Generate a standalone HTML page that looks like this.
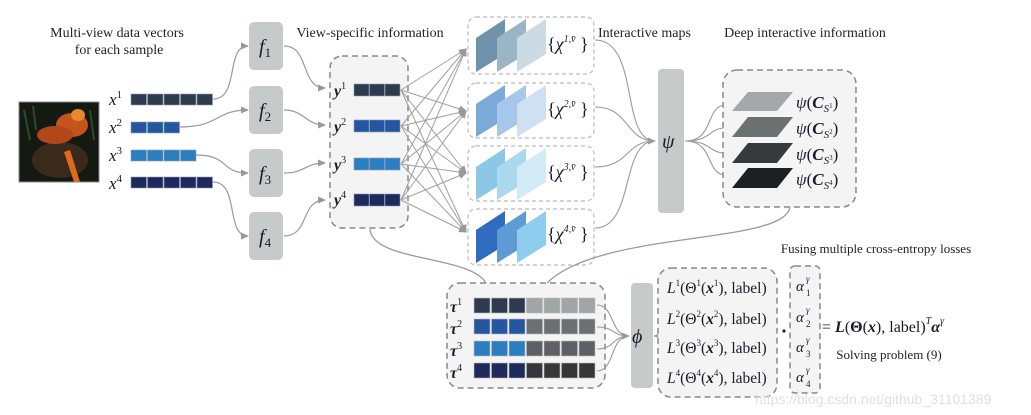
<!DOCTYPE html>
<html><head><meta charset="utf-8"><style>
html,body{margin:0;padding:0;background:#fff;}
svg{display:block;}
.t{font-family:"Liberation Serif",serif;fill:#222;}
.m{font-family:"Liberation Serif",serif;font-style:italic;fill:#1a1a2a;}
</style></head><body>
<svg width="1031" height="415" viewBox="0 0 1031 415" xmlns="http://www.w3.org/2000/svg">
<defs>
<marker id="a" markerWidth="8" markerHeight="8" refX="7" refY="4" orient="auto" markerUnits="userSpaceOnUse"><path d="M0,0.5 L8,4 L0,7.5 Z" fill="#999"/></marker>
</defs>
<text class="t" x="117" y="37" font-size="14" text-anchor="middle">Multi-view data vectors</text>
<text class="t" x="119" y="54" font-size="14" text-anchor="middle">for each sample</text>
<text class="t" x="370" y="37" font-size="14" text-anchor="middle">View-specific information</text>
<text class="t" x="598" y="37" font-size="14">Interactive maps</text>
<text class="t" x="805" y="37" font-size="14" text-anchor="middle">Deep interactive information</text>
<text class="t" x="876" y="253" font-size="13" text-anchor="middle">Fusing multiple cross-entropy losses</text>
<text class="t" x="889" y="359" font-size="13" text-anchor="middle">Solving problem (9)</text>

<rect x="19" y="102" width="80" height="80" fill="#141a12" stroke="#888" stroke-width="1"/>
<ellipse cx="60" cy="160" rx="28" ry="18" fill="#3a2a1c"/>
<ellipse cx="72" cy="125" rx="16" ry="12" fill="#c5541c"/>
<ellipse cx="55" cy="135" rx="18" ry="9" fill="#b2481a"/>
<path d="M70,150 L80,182 L74,182 L64,152Z" fill="#e06a1c"/>
<ellipse cx="78" cy="115" rx="7" ry="6" fill="#e88a2a"/>
<path d="M24,110 L30,140 M33,106 L36,130 M90,110 L94,140" stroke="#2d4a2a" stroke-width="2"/>

<g class="m" font-size="17">
<text x="109" y="105">x<tspan font-size="11" font-style="normal" dy="-7">1</tspan></text>
<text x="109" y="133">x<tspan font-size="11" font-style="normal" dy="-7">2</tspan></text>
<text x="109" y="161">x<tspan font-size="11" font-style="normal" dy="-7">3</tspan></text>
<text x="109" y="189">x<tspan font-size="11" font-style="normal" dy="-7">4</tspan></text>
</g>
<g stroke="#8a9bb0" stroke-width="0.6">
<g fill="#2e3b4e"><rect x="131" y="94" width="15.5" height="11"/><rect x="147.5" y="94" width="15.5" height="11"/><rect x="164" y="94" width="15.5" height="11"/><rect x="180.5" y="94" width="15.5" height="11"/><rect x="197" y="94" width="15.5" height="11"/></g>
<g fill="#2557a0"><rect x="131" y="122" width="15.5" height="11"/><rect x="147.5" y="122" width="15.5" height="11"/><rect x="164" y="122" width="15.5" height="11"/></g>
<g fill="#2b7fc1"><rect x="131" y="150" width="15.5" height="11"/><rect x="147.5" y="150" width="15.5" height="11"/><rect x="164" y="150" width="15.5" height="11"/><rect x="180.5" y="150" width="15.5" height="11"/></g>
<g fill="#1e2a5c"><rect x="131" y="177" width="15.5" height="11"/><rect x="147.5" y="177" width="15.5" height="11"/><rect x="164" y="177" width="15.5" height="11"/><rect x="180.5" y="177" width="15.5" height="11"/><rect x="197" y="177" width="15.5" height="11"/></g>
</g>

<g fill="#c6cacb">
<rect x="249" y="22" width="34" height="48" rx="5"/>
<rect x="249" y="86" width="34" height="48" rx="5"/>
<rect x="249" y="149" width="34" height="48" rx="5"/>
<rect x="249" y="212" width="34" height="48" rx="5"/>
</g>
<g class="m" font-size="20">
<text x="259" y="53">f<tspan font-size="13" font-style="normal" dy="4">1</tspan></text>
<text x="259" y="117">f<tspan font-size="13" font-style="normal" dy="4">2</tspan></text>
<text x="259" y="180">f<tspan font-size="13" font-style="normal" dy="4">3</tspan></text>
<text x="259" y="243">f<tspan font-size="13" font-style="normal" dy="4">4</tspan></text>
</g>

<g fill="none" stroke="#9a9a9a" stroke-width="1.2" marker-end="url(#a)">
<path d="M213,99 C240,99 225,46 248,46"/>
<path d="M180,127 C220,127 215,110 248,110"/>
<path d="M196,155 C230,155 220,173 248,173"/>
<path d="M213,182 C240,182 225,236 248,236"/>
<path d="M284,46 C310,46 300,88 325,88"/>
<path d="M284,110 C305,110 305,125 325,125"/>
<path d="M284,173 C305,173 305,163 325,163"/>
<path d="M284,236 C310,236 300,200 325,200"/>
</g>

<rect x="330" y="56" width="78" height="172" rx="12" fill="#f4f4f4" stroke="#888" stroke-width="1.5" stroke-dasharray="6,4"/>
<g class="m" font-size="16" font-weight="bold">
<text x="334" y="96">y<tspan font-size="10" font-weight="normal" font-style="normal" dy="-7">1</tspan></text>
<text x="334" y="132">y<tspan font-size="10" font-weight="normal" font-style="normal" dy="-7">2</tspan></text>
<text x="334" y="170">y<tspan font-size="10" font-weight="normal" font-style="normal" dy="-7">3</tspan></text>
<text x="334" y="205">y<tspan font-size="10" font-weight="normal" font-style="normal" dy="-7">4</tspan></text>
</g>
<g stroke="#8a9bb0" stroke-width="0.6">
<g fill="#2e3b4e"><rect x="354" y="84" width="15" height="12"/><rect x="369.5" y="84" width="15" height="12"/><rect x="385" y="84" width="15" height="12"/></g>
<g fill="#2557a0"><rect x="354" y="120" width="15" height="12"/><rect x="369.5" y="120" width="15" height="12"/><rect x="385" y="120" width="15" height="12"/></g>
<g fill="#2b7fc1"><rect x="354" y="158" width="15" height="12"/><rect x="369.5" y="158" width="15" height="12"/><rect x="385" y="158" width="15" height="12"/></g>
<g fill="#1e2a5c"><rect x="354" y="194" width="15" height="12"/><rect x="369.5" y="194" width="15" height="12"/><rect x="385" y="194" width="15" height="12"/></g>
</g>

<g stroke="#a0a0a0" stroke-width="1" marker-end="url(#a)">
<line x1="401" y1="90" x2="466" y2="49"/><line x1="401" y1="90" x2="466" y2="111"/><line x1="401" y1="90" x2="466" y2="173"/><line x1="401" y1="90" x2="466" y2="232"/>
<line x1="401" y1="126" x2="466" y2="49"/><line x1="401" y1="126" x2="466" y2="111"/><line x1="401" y1="126" x2="466" y2="173"/><line x1="401" y1="126" x2="466" y2="232"/>
<line x1="401" y1="164" x2="466" y2="49"/><line x1="401" y1="164" x2="466" y2="111"/><line x1="401" y1="164" x2="466" y2="173"/><line x1="401" y1="164" x2="466" y2="232"/>
<line x1="401" y1="200" x2="466" y2="49"/><line x1="401" y1="200" x2="466" y2="111"/><line x1="401" y1="200" x2="466" y2="173"/><line x1="401" y1="200" x2="466" y2="232"/>
</g>

<g fill="#fff" stroke="#bbb" stroke-width="1.2" stroke-dasharray="4,3">
<rect x="468" y="17" width="126" height="57" rx="8"/>
<rect x="468" y="83" width="126" height="55" rx="8"/>
<rect x="468" y="146" width="126" height="55" rx="8"/>
<rect x="468" y="209" width="126" height="56" rx="8"/>
</g>
<g>
<path d="M476,38 L505,19 L505,54 L476,72Z" fill="#6f93ab"/><path d="M497,38 L526,19 L526,54 L497,72Z" fill="#9ab5c5"/><path d="M517,38 L546,19 L546,54 L517,72Z" fill="#cbdae3"/>
<path d="M476,104 L505,85 L505,119 L476,137Z" fill="#7aa9da"/><path d="M497,104 L526,85 L526,119 L497,137Z" fill="#a6c7ea"/><path d="M517,104 L546,85 L546,119 L517,137Z" fill="#cfe0f3"/>
<path d="M476,167 L505,148 L505,182 L476,200Z" fill="#8cc7e6"/><path d="M497,167 L526,148 L526,182 L497,200Z" fill="#acd8ee"/><path d="M517,167 L546,148 L546,182 L517,200Z" fill="#d3eaf7"/>
<path d="M476,230 L505,211 L505,245 L476,263Z" fill="#2f6bbf"/><path d="M497,230 L526,211 L526,245 L497,263Z" fill="#5e9ad4"/><path d="M517,230 L546,211 L546,245 L517,263Z" fill="#8fcdef"/>
</g>
<g class="m" font-size="18">
<text x="547" y="50"><tspan font-style="normal">{</tspan>χ<tspan font-size="10" dy="-8">1,v̄</tspan><tspan font-style="normal" dy="8"> }</tspan></text>
<text x="547" y="115"><tspan font-style="normal">{</tspan>χ<tspan font-size="10" dy="-8">2,v̄</tspan><tspan font-style="normal" dy="8"> }</tspan></text>
<text x="547" y="178"><tspan font-style="normal">{</tspan>χ<tspan font-size="10" dy="-8">3,v̄</tspan><tspan font-style="normal" dy="8"> }</tspan></text>
<text x="547" y="240"><tspan font-style="normal">{</tspan>χ<tspan font-size="10" dy="-8">4,v̄</tspan><tspan font-style="normal" dy="8"> }</tspan></text>
</g>

<rect x="658" y="69" width="26" height="144" rx="4" fill="#c6cacb"/>
<text class="m" x="662" y="148" font-size="20">ψ</text>
<g fill="none" stroke="#9a9a9a" stroke-width="1.1">
<path d="M595,40 C640,40 620,141 655,141" marker-end="url(#a)"/>
<path d="M595,107 C630,107 625,141 655,141"/>
<path d="M595,167 C630,167 625,141 655,141"/>
<path d="M595,228 C635,228 620,141 655,141"/>
<path d="M685,141 C715,141 705,105 726,105"/>
<path d="M685,141 C712,141 708,128 726,128"/>
<path d="M685,141 C712,141 708,153 726,153"/>
<path d="M685,141 C715,141 705,175 726,175"/>
</g>

<rect x="723" y="70" width="133" height="137" rx="14" fill="#f4f4f4" stroke="#888" stroke-width="1.5" stroke-dasharray="6,4"/>
<path d="M732,111 L748,92 L793,92 L777,111Z" fill="#a3a8a8"/>
<path d="M732,137 L748,117 L793,117 L777,137Z" fill="#6b7070"/>
<path d="M732,163 L748,143 L793,143 L777,163Z" fill="#37393b"/>
<path d="M732,188 L748,168 L793,168 L777,188Z" fill="#1e1f20"/>
<g class="m" font-size="17">
<text x="796" y="108">ψ<tspan font-style="normal">(</tspan><tspan font-weight="bold">C</tspan><tspan font-size="11" dy="4">S</tspan><tspan font-size="7" font-style="normal" dy="-4">1</tspan><tspan font-style="normal" dy="0">)</tspan></text>
<text x="796" y="134">ψ<tspan font-style="normal">(</tspan><tspan font-weight="bold">C</tspan><tspan font-size="11" dy="4">S</tspan><tspan font-size="7" font-style="normal" dy="-4">2</tspan><tspan font-style="normal">)</tspan></text>
<text x="796" y="160">ψ<tspan font-style="normal">(</tspan><tspan font-weight="bold">C</tspan><tspan font-size="11" dy="4">S</tspan><tspan font-size="7" font-style="normal" dy="-4">3</tspan><tspan font-style="normal">)</tspan></text>
<text x="796" y="185">ψ<tspan font-style="normal">(</tspan><tspan font-weight="bold">C</tspan><tspan font-size="11" dy="4">S</tspan><tspan font-size="7" font-style="normal" dy="-4">4</tspan><tspan font-style="normal">)</tspan></text>
</g>

<g fill="none" stroke="#9a9a9a" stroke-width="1.3">
<path d="M370,229 C372,262 470,255 486,283"/>
<path d="M790,207 C785,245 600,230 547,283"/>
</g>

<rect x="447" y="283" width="158" height="105" rx="13" fill="#f4f4f4" stroke="#888" stroke-width="1.5" stroke-dasharray="6,4"/>
<g class="m" font-size="16" font-weight="bold">
<text x="450" y="312">τ<tspan font-size="10" font-weight="normal" font-style="normal" dy="-7">1</tspan></text>
<text x="450" y="334">τ<tspan font-size="10" font-weight="normal" font-style="normal" dy="-7">2</tspan></text>
<text x="450" y="356">τ<tspan font-size="10" font-weight="normal" font-style="normal" dy="-7">3</tspan></text>
<text x="450" y="378">τ<tspan font-size="10" font-weight="normal" font-style="normal" dy="-7">4</tspan></text>
</g>
<g stroke="#bbb" stroke-width="0.6">
<g fill="#2e3b4e"><rect x="474" y="298" width="16" height="15"/><rect x="491.5" y="298" width="16" height="15"/><rect x="509" y="298" width="16" height="15"/></g>
<g fill="#a0a5a6"><rect x="526.5" y="298" width="16" height="15"/><rect x="544" y="298" width="16" height="15"/><rect x="561.5" y="298" width="16" height="15"/><rect x="579" y="298" width="16" height="15"/></g>
<g fill="#2557a0"><rect x="474" y="319" width="16" height="15"/><rect x="491.5" y="319" width="16" height="15"/><rect x="509" y="319" width="16" height="15"/></g>
<g fill="#6b7070"><rect x="526.5" y="319" width="16" height="15"/><rect x="544" y="319" width="16" height="15"/><rect x="561.5" y="319" width="16" height="15"/><rect x="579" y="319" width="16" height="15"/></g>
<g fill="#2b7fc1"><rect x="474" y="341" width="16" height="15"/><rect x="491.5" y="341" width="16" height="15"/><rect x="509" y="341" width="16" height="15"/></g>
<g fill="#5f6063"><rect x="526.5" y="341" width="16" height="15"/><rect x="544" y="341" width="16" height="15"/><rect x="561.5" y="341" width="16" height="15"/><rect x="579" y="341" width="16" height="15"/></g>
<g fill="#1e2a5c"><rect x="474" y="363" width="16" height="15"/><rect x="491.5" y="363" width="16" height="15"/><rect x="509" y="363" width="16" height="15"/></g>
<g fill="#35383b"><rect x="526.5" y="363" width="16" height="15"/><rect x="544" y="363" width="16" height="15"/><rect x="561.5" y="363" width="16" height="15"/><rect x="579" y="363" width="16" height="15"/></g>
</g>

<rect x="631" y="283" width="22" height="105" rx="4" fill="#c6cacb"/>
<text class="m" x="632" y="343" font-size="20">ϕ</text>
<g fill="none" stroke="#9a9a9a" stroke-width="1.1">
<path d="M597,305 C615,305 610,336 629,336" marker-end="url(#a)"/>
<path d="M597,327 C615,327 612,336 629,336"/>
<path d="M597,349 C615,349 612,336 629,336"/>
<path d="M597,371 C615,371 610,336 629,336"/>
<path d="M654,336 C668,336 660,287 672,287"/>
<path d="M654,336 C668,336 662,318 672,318"/>
<path d="M654,336 C668,336 662,347 672,347"/>
<path d="M654,336 C668,336 660,377 672,377"/>
</g>

<rect x="658" y="268" width="119" height="129" rx="13" fill="#f4f4f4" stroke="#888" stroke-width="1.5" stroke-dasharray="6,4"/>
<g class="m" font-size="15.5">
<text x="667" y="293">L<tspan font-size="9" font-style="normal" dy="-7">1</tspan><tspan font-style="normal" dy="7">(Θ</tspan><tspan font-size="9" font-style="normal" dy="-7">1</tspan><tspan font-style="normal" dy="7">(</tspan><tspan font-weight="bold">x</tspan><tspan font-size="9" font-style="normal" dy="-7">1</tspan><tspan font-style="normal" dy="7">), label)</tspan></text>
<text x="667" y="324">L<tspan font-size="9" font-style="normal" dy="-7">2</tspan><tspan font-style="normal" dy="7">(Θ</tspan><tspan font-size="9" font-style="normal" dy="-7">2</tspan><tspan font-style="normal" dy="7">(</tspan><tspan font-weight="bold">x</tspan><tspan font-size="9" font-style="normal" dy="-7">2</tspan><tspan font-style="normal" dy="7">), label)</tspan></text>
<text x="667" y="353">L<tspan font-size="9" font-style="normal" dy="-7">3</tspan><tspan font-style="normal" dy="7">(Θ</tspan><tspan font-size="9" font-style="normal" dy="-7">3</tspan><tspan font-style="normal" dy="7">(</tspan><tspan font-weight="bold">x</tspan><tspan font-size="9" font-style="normal" dy="-7">3</tspan><tspan font-style="normal" dy="7">), label)</tspan></text>
<text x="667" y="383">L<tspan font-size="9" font-style="normal" dy="-7">4</tspan><tspan font-style="normal" dy="7">(Θ</tspan><tspan font-size="9" font-style="normal" dy="-7">4</tspan><tspan font-style="normal" dy="7">(</tspan><tspan font-weight="bold">x</tspan><tspan font-size="9" font-style="normal" dy="-7">4</tspan><tspan font-style="normal" dy="7">), label)</tspan></text>
</g>
<circle cx="784" cy="331" r="1.6" fill="#222"/>

<rect x="790" y="266" width="30" height="127" rx="5" fill="#f4f4f4" stroke="#888" stroke-width="1.5" stroke-dasharray="6,4"/>
<g class="m" font-size="15">
<text x="796" y="291">α</text><text x="806" y="282" font-size="9">γ</text><text x="806" y="296" font-size="9" font-style="normal">1</text>
<text x="796" y="322">α</text><text x="806" y="313" font-size="9">γ</text><text x="806" y="327" font-size="9" font-style="normal">2</text>
<text x="796" y="352">α</text><text x="806" y="343" font-size="9">γ</text><text x="806" y="357" font-size="9" font-style="normal">3</text>
<text x="796" y="382">α</text><text x="806" y="373" font-size="9">γ</text><text x="806" y="387" font-size="9" font-style="normal">4</text>
</g>
<text class="m" x="822" y="332" font-size="16"><tspan font-style="normal">= </tspan><tspan font-weight="bold">L</tspan><tspan font-style="normal">(</tspan><tspan font-weight="bold" font-style="normal">Θ</tspan><tspan font-style="normal">(</tspan><tspan font-weight="bold">x</tspan><tspan font-style="normal">), label)</tspan><tspan font-size="10" dy="-8">T</tspan><tspan font-weight="bold" dy="8">α</tspan><tspan font-size="10" dy="-8">γ</tspan></text>

<text x="755" y="404" font-family="Liberation Sans,sans-serif" font-size="14" fill="#e0e0e0">https://blog.csdn.net/github_31101389</text>
</svg>
</body></html>
